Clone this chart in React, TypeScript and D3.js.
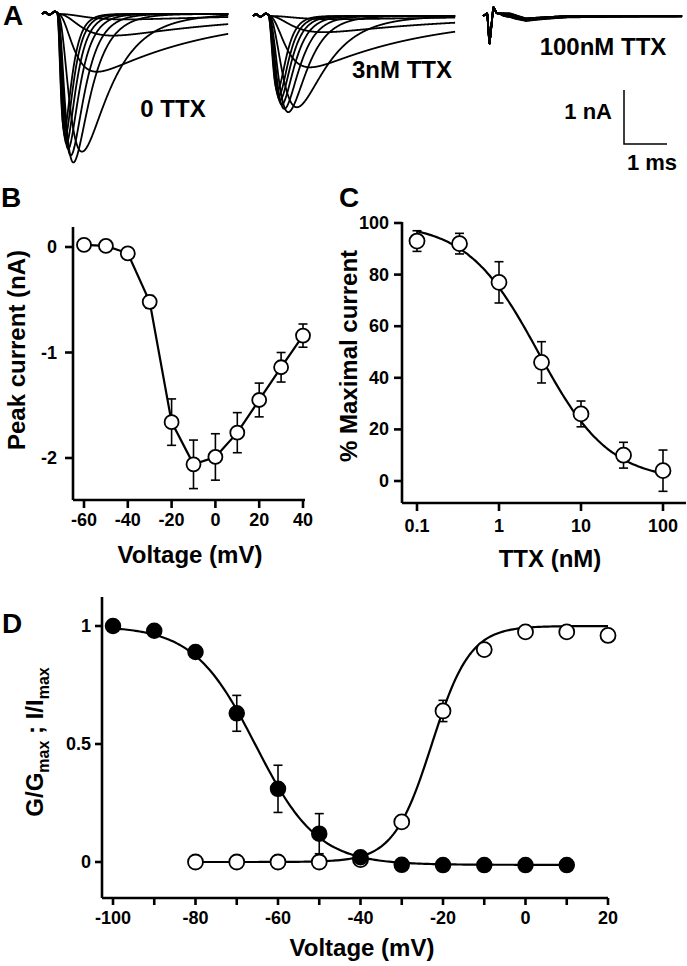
import React from 'react';
import * as d3 from 'd3';

const FONT = '"Liberation Sans", Arial, Helvetica, sans-serif';

// ---------- Panel A : example current traces ----------
const stepVoltages = [-50, -40, -30, -20, -10, 0, 10, 20, 30, 40];
const peakControl = [0.1, 0.4, 1.07, 2.55, 2.75, 2.62, 2.5, 2.4, 2.28, 2.15];
const peak3nM = [0.06, 0.3, 0.95, 1.69, 1.78, 1.72, 1.64, 1.56, 1.48, 1.38];
const peak100nM = [0.01, 0.02, 0.03, 0.05, 0.07, 0.07, 0.06, 0.06, 0.05, 0.05];
const timeToPeakControl = [1.6, 1.3, 0.93, 0.58, 0.38, 0.32, 0.26, 0.22, 0.19, 0.17];
const timeToPeak3nM = [1.6, 1.3, 0.98, 0.67, 0.47, 0.38, 0.32, 0.28, 0.25, 0.22];
const decayTau = [3.2, 3.0, 2.6, 0.7, 0.4, 0.32, 0.27, 0.23, 0.2, 0.18];
const artifactSmallT = [0, 0.07, 0.17, 0.3, 0.4];
const artifactSmallI = [0, 0.04, -0.02, 0.05, 0];
const artifact100T = [0, 0.1, 0.15, 0.24, 0.32, 0.63, 1.0, 1.5, 2.0];
const artifact100I = [0, 0.05, -0.54, 0.17, 0.05, 0.05, -0.04, -0.02, 0];
const traceLabels = ['0 TTX', '3nM TTX', '100nM TTX'];

// ---------- Panel B : I-V ----------
const ivVoltage = [-60, -50, -40, -30, -20, -10, 0, 10, 20, 30, 40];
const ivCurrent = [0.02, 0.01, -0.06, -0.52, -1.66, -2.06, -1.99, -1.76, -1.45, -1.14, -0.84];
const ivError = [0, 0, 0, 0.06, 0.22, 0.23, 0.22, 0.19, 0.16, 0.14, 0.11];
const ivXTicks = [-60, -40, -20, 0, 20, 40];
const ivYTicks = [0, -1, -2];

// ---------- Panel C : TTX dose response ----------
const ttxConc = [0.1, 0.33, 1, 3.3, 10, 33, 100];
const ttxPercent = [93, 92, 77, 46, 26, 10, 4];
const ttxError = [4, 4, 8, 8, 5, 5, 8];
const ttxIC50 = 3.0;
const ttxHill = 1.0;
const ttxXTicks = [0.1, 1, 10, 100];
const ttxYTicks = [0, 20, 40, 60, 80, 100];

// ---------- Panel D : activation / inactivation ----------
const inactVoltage = [-100, -90, -80, -70, -60, -50, -40, -30, -20, -10, 0, 10];
const inactValue = [1.0, 0.98, 0.89, 0.63, 0.31, 0.12, 0.02, -0.012, -0.013, -0.013, -0.013, -0.013];
const inactError = [0, 0, 0, 0.076, 0.1, 0.085, 0, 0, 0, 0, 0, 0];
const actVoltage = [-80, -70, -60, -50, -40, -30, -20, -10, 0, 10, 20];
const actValue = [0, 0, 0, 0, 0.01, 0.17, 0.64, 0.9, 0.975, 0.975, 0.96];
const actError = [0, 0, 0, 0, 0, 0, 0.045, 0, 0, 0, 0];
const inactHalf = -65.4;
const inactSlope = 7.5;
const inactFloor = -0.012;
const actHalf = -22.7;
const actSlope = 4.63;
const dXTicks = [-100, -90, -80, -70, -60, -50, -40, -30, -20, -10, 0, 10, 20];
const dXLabels = [-100, -80, -60, -40, -20, 0, 20];
const dYTicks = [0, 0.5, 1];

function kinetic(tp: number, tauH: number) {
  let lo = 0.002;
  let hi = 10;
  for (let i = 0; i < 80; i++) {
    const m = (lo + hi) / 2;
    const e = Math.exp(-tp / m);
    const g = (3 * e) / (m * (1 - e)) - 1 / tauH;
    if (g > 0) hi = m;
    else lo = m;
  }
  const tauM = (lo + hi) / 2;
  const f = (t: number) => (t <= 0 ? 0 : Math.pow(1 - Math.exp(-t / tauM), 3) * Math.exp(-t / tauH));
  const fp = f(tp);
  return (t: number) => f(t) / fp;
}

const AX = { stroke: '#000', strokeWidth: 2.6, fill: 'none' };
const txt = (size: number) => ({ fontFamily: FONT, fontWeight: 700 as const, fontSize: size, fill: '#000' });

function ErrorBar({ x, y0, y1 }: { x: number; y0: number; y1: number }) {
  return (
    <g stroke="#000" strokeWidth={1.6}>
      <line x1={x} x2={x} y1={y0} y2={y1} />
      <line x1={x - 4.5} x2={x + 4.5} y1={y0} y2={y0} />
      <line x1={x - 4.5} x2={x + 4.5} y1={y1} y2={y1} />
    </g>
  );
}

function PanelA() {
  const onset = 0.35;
  const pxPerMs = 43;
  const pxPerNA = 54;
  const panels = [
    { x0: 42, dur: 4.33, base: 14, peaks: peakControl, tps: timeToPeakControl, artT: artifactSmallT, artI: artifactSmallI },
    { x0: 253, dur: 4.7, base: 16, peaks: peak3nM, tps: timeToPeak3nM, artT: artifactSmallT, artI: artifactSmallI },
    { x0: 483, dur: 4.63, base: 16, peaks: peak100nM, tps: timeToPeakControl, artT: artifact100T, artI: artifact100I },
  ];
  const paths: JSX.Element[] = [];
  panels.forEach((p, pi) => {
    const xs = d3.scaleLinear().domain([0, p.dur]).range([p.x0, p.x0 + p.dur * pxPerMs]);
    const ys = d3.scaleLinear().domain([0, -1]).range([p.base, p.base + pxPerNA]);
    const art = d3.scaleLinear().domain(p.artT).range(p.artI).clamp(true);
    const times = d3.range(0, p.dur + 0.001, 0.01);
    stepVoltages.forEach((v, i) => {
      const k = kinetic(p.tps[i], decayTau[i]);
      const pts: [number, number][] = times.map((t) => [t, art(t) - p.peaks[i] * k(t - onset)]);
      const line = d3.line<[number, number]>().x((d) => xs(d[0])).y((d) => ys(d[1])).curve(d3.curveBasis);
      paths.push(
        <path key={`${pi}-${v}`} d={line(pts) || ''} fill="none" stroke="#000" strokeWidth={1.8} strokeLinejoin="round" />
      );
    });
  });
  return (
    <g>
      {paths}
      <text x={173} y={117} textAnchor="middle" {...txt(24)}>{traceLabels[0]}</text>
      <text x={402} y={78} textAnchor="middle" {...txt(24)}>{traceLabels[1]}</text>
      <text x={603} y={55} textAnchor="middle" {...txt(24)}>{traceLabels[2]}</text>
      <path d="M624,90 L624,144 L667,144" fill="none" stroke="#000" strokeWidth={1.5} />
      <text x={612} y={119} textAnchor="end" {...txt(22)}>1 nA</text>
      <text x={652} y={170} textAnchor="middle" {...txt(22)}>1 ms</text>
    </g>
  );
}

function PanelB() {
  const x = d3.scaleLinear().domain([-60, 40]).range([84, 303]);
  const y = d3.scaleLinear().domain([0, -2]).range([247, 458]);
  const line = d3.line<number>().x((_, i) => x(ivVoltage[i])).y((d) => y(d));
  return (
    <g>
      <line x1={73} x2={73} y1={227} y2={500} {...AX} />
      <line x1={73} x2={305} y1={500} y2={500} {...AX} />
      {ivYTicks.map((t) => (
        <g key={t}>
          <line x1={65} x2={73} y1={y(t)} y2={y(t)} {...AX} />
          <text x={57} y={y(t) + 6} textAnchor="end" {...txt(18)}>{t}</text>
        </g>
      ))}
      {ivXTicks.map((t) => (
        <g key={t}>
          <line x1={x(t)} x2={x(t)} y1={500} y2={508} {...AX} />
          <text x={x(t)} y={526} textAnchor="middle" {...txt(18)}>{t}</text>
        </g>
      ))}
      <path d={line(ivCurrent) || ''} fill="none" stroke="#000" strokeWidth={2.2} />
      {ivCurrent.map((d, i) =>
        ivError[i] > 0 ? <ErrorBar key={i} x={x(ivVoltage[i])} y0={y(d + ivError[i])} y1={y(d - ivError[i])} /> : null
      )}
      {ivCurrent.map((d, i) => (
        <circle key={i} cx={x(ivVoltage[i])} cy={y(d)} r={7} fill="#fff" stroke="#000" strokeWidth={1.8} />
      ))}
      <text x={190} y={563} textAnchor="middle" {...txt(24)}>Voltage (mV)</text>
      <text transform="translate(25,350) rotate(-90)" textAnchor="middle" {...txt(24)}>Peak current (nA)</text>
    </g>
  );
}

function PanelC() {
  const x = d3.scaleLog().domain([0.1, 100]).range([417, 663]);
  const y = d3.scaleLinear().domain([0, 100]).range([481, 223]);
  const hill = (c: number) => 100 / (1 + Math.pow(c / ttxIC50, ttxHill));
  const grid = d3.range(-1, 2.001, 0.02).map((e) => Math.pow(10, e));
  const fit = d3.line<number>().x((c) => x(c)).y((c) => y(hill(c))).curve(d3.curveBasis);
  return (
    <g>
      <line x1={402} x2={402} y1={222} y2={503} {...AX} />
      <line x1={402} x2={686} y1={503} y2={503} {...AX} />
      {ttxYTicks.map((t) => (
        <g key={t}>
          <line x1={394} x2={402} y1={y(t)} y2={y(t)} {...AX} />
          <text x={389} y={y(t) + 6} textAnchor="end" {...txt(18)}>{t}</text>
        </g>
      ))}
      {ttxXTicks.map((t) => (
        <g key={t}>
          <line x1={x(t)} x2={x(t)} y1={503} y2={511} {...AX} />
          <text x={x(t)} y={532} textAnchor="middle" {...txt(18)}>{t}</text>
        </g>
      ))}
      <path d={fit(grid) || ''} fill="none" stroke="#000" strokeWidth={2.2} />
      {ttxPercent.map((d, i) => (
        <ErrorBar key={i} x={x(ttxConc[i])} y0={y(d + ttxError[i])} y1={y(d - ttxError[i])} />
      ))}
      {ttxPercent.map((d, i) => (
        <circle key={i} cx={x(ttxConc[i])} cy={y(d)} r={7.5} fill="#fff" stroke="#000" strokeWidth={1.8} />
      ))}
      <text x={550} y={567} textAnchor="middle" {...txt(24)}>TTX (nM)</text>
      <text transform="translate(357,356) rotate(-90)" textAnchor="middle" {...txt(24)}>% Maximal current</text>
    </g>
  );
}

function PanelD() {
  const x = d3.scaleLinear().domain([-100, 20]).range([113, 608]);
  const y = d3.scaleLinear().domain([0, 1]).range([862, 626]);
  const inact = (v: number) => (1 - inactFloor) / (1 + Math.exp((v - inactHalf) / inactSlope)) + inactFloor;
  const act = (v: number) => 1 / (1 + Math.exp((actHalf - v) / actSlope));
  const gi = d3.range(-100, 10.001, 0.5);
  const ga = d3.range(-80, 20.001, 0.5);
  const li = d3.line<number>().x((v) => x(v)).y((v) => y(inact(v)));
  const la = d3.line<number>().x((v) => x(v)).y((v) => y(act(v)));
  return (
    <g>
      <line x1={102} x2={102} y1={597} y2={898} {...AX} />
      <line x1={102} x2={608} y1={898} y2={898} {...AX} />
      {dYTicks.map((t) => (
        <g key={t}>
          <line x1={95} x2={102} y1={y(t)} y2={y(t)} {...AX} />
          <text x={91} y={y(t) + 6} textAnchor="end" {...txt(18)}>{t}</text>
        </g>
      ))}
      {dXTicks.map((t) => (
        <line key={t} x1={x(t)} x2={x(t)} y1={898} y2={905} {...AX} />
      ))}
      {dXLabels.map((t) => (
        <text key={t} x={x(t)} y={924} textAnchor="middle" {...txt(18)}>{t}</text>
      ))}
      <path d={la(ga) || ''} fill="none" stroke="#000" strokeWidth={2.2} />
      <path d={li(gi) || ''} fill="none" stroke="#000" strokeWidth={2.2} />
      {inactValue.map((d, i) =>
        inactError[i] > 0 ? <ErrorBar key={'ie' + i} x={x(inactVoltage[i])} y0={y(d + inactError[i])} y1={y(d - inactError[i])} /> : null
      )}
      {actValue.map((d, i) =>
        actError[i] > 0 ? <ErrorBar key={'ae' + i} x={x(actVoltage[i])} y0={y(d + actError[i])} y1={y(d - actError[i])} /> : null
      )}
      {actValue.map((d, i) => (
        <circle key={'a' + i} cx={x(actVoltage[i])} cy={y(d)} r={7.5} fill="#fff" stroke="#000" strokeWidth={1.8} />
      ))}
      {inactValue.map((d, i) => (
        <circle key={'i' + i} cx={x(inactVoltage[i])} cy={y(d)} r={7.5} fill="#000" stroke="#000" strokeWidth={1.5} />
      ))}
      <text x={362} y={956} textAnchor="middle" {...txt(24)}>Voltage (mV)</text>
      <text transform="translate(43,742) rotate(-90)" textAnchor="middle" {...txt(24)}>
        G/G<tspan fontSize={16} dy={6}>max</tspan>
        <tspan dy={-6}> ; I/I</tspan>
        <tspan fontSize={16} dy={6}>max</tspan>
      </text>
    </g>
  );
}

export default function App() {
  return (
    <svg
      width={687}
      height={966}
      viewBox="0 0 687 966"
      style={{ position: 'absolute', left: 0, top: 0, background: '#fff' }}
    >
      <rect x={0} y={0} width={687} height={966} fill="#fff" />
      <text x={3} y={25} {...txt(28)}>A</text>
      <text x={1} y={207} {...txt(28)}>B</text>
      <text x={339} y={207} {...txt(28)}>C</text>
      <text x={2} y={633} {...txt(28)}>D</text>
      <PanelA />
      <PanelB />
      <PanelC />
      <PanelD />
    </svg>
  );
}
